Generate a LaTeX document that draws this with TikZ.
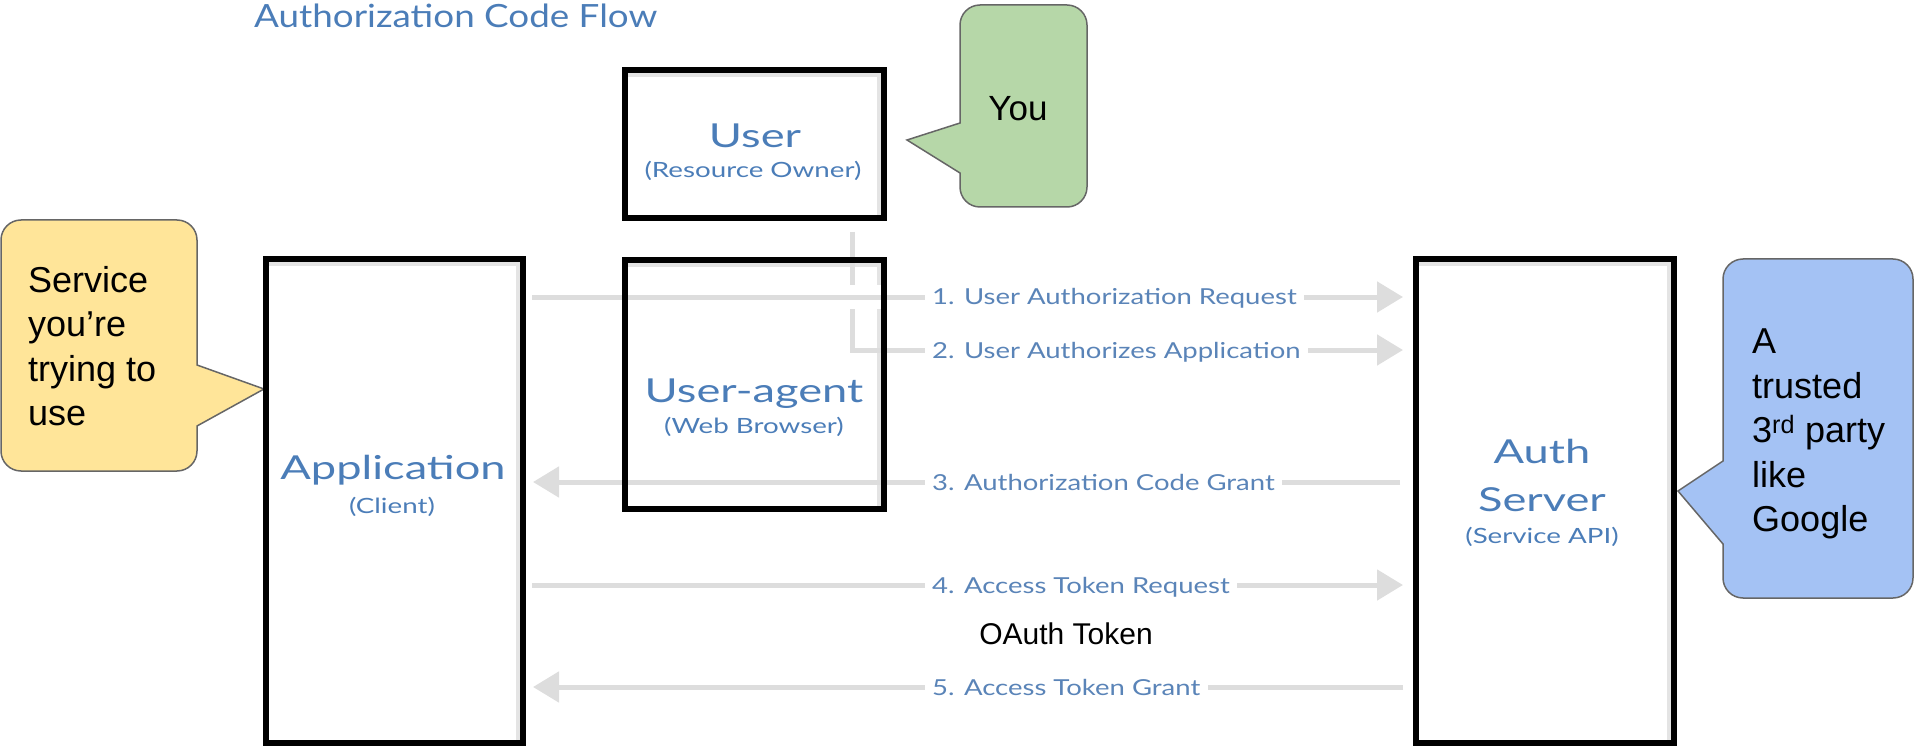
\documentclass[tikz,border=0pt]{standalone}
\usepackage{fontspec}
\setmainfont{Liberation Sans}
\newfontfamily\titlefont{Lato}[FakeStretch = 1.15]
\newfontfamily\flowfont{Lato}[FakeStretch = 1.37]
\newfontfamily\subfont{Lato}[FakeStretch = 1.32]
\newfontfamily\stepfont{Lato}[FakeStretch = 1.25]
\usetikzlibrary{arrows.meta,positioning}

\definecolor{flowblue}{HTML}{4B7DB8}
\definecolor{stepblue}{HTML}{5A84B8}
\definecolor{flowgray}{HTML}{DDDDDD}
\definecolor{yougreen}{HTML}{B6D7A8}
\definecolor{svcyellow}{HTML}{FFE599}
\definecolor{authblue}{HTML}{A4C2F4}
\definecolor{bubbleedge}{HTML}{666666}

\pgfdeclarelayer{back}
\pgfsetlayers{back,main}

\tikzset{
	actor/.style = {draw = black, line width = 6pt, rectangle, inner sep = 0pt},
	boxshade/.style = {draw = flowgray!80, line width = 4pt},
	who/.style = {font = \flowfont\fontsize{33}{36}\selectfont, text = flowblue, inner sep = 0pt, anchor = base},
	whosub/.style = {font = \subfont\fontsize{21}{24}\selectfont, text = flowblue, inner sep = 0pt, anchor = base},
	flow/.style = {draw = flowgray, line width = 5pt},
	flowhead/.style = {-{Triangle[length = 26pt, width = 30pt]}},
	steplbl/.style = {font = \stepfont\fontsize{22}{24}\selectfont, text = stepblue, inner ysep = 0pt, inner xsep = 7pt,
		text height = 20pt, text depth = 4pt, anchor = west, fill = white},
	bubble/.style = {draw = bubbleedge, line width = 1.5pt},
	say/.style = {font = \fontsize{36}{44.5}\selectfont, align = left, inner sep = 0pt, anchor = north west}
}

\begin{document}
\begin{tikzpicture}[x = 1pt, y = -1pt]
	\useasboundingbox (0,0) rectangle (1915,746);

	\node at (254,28)(title)[anchor = base west, inner sep = 0pt, text = flowblue, font = \titlefont\fontsize{32}{36}\selectfont]{Authorization Code Flow};

	\draw[bubble, fill = yougreen] (907,140) -- (960,173) [rounded corners = 20pt] -- (960,207) -- (1087,207) -- (1087,5) -- (960,5) [sharp corners] -- (960,123) -- cycle;
	\node at (1018,120.5)(you)[anchor = base, inner sep = 0pt, font = \fontsize{35}{40}\selectfont]{You};

	\draw[bubble, fill = svcyellow] (264,389) -- (197,426) [rounded corners = 20pt] -- (197,471) -- (1,471) -- (1,220) -- (197,220) [sharp corners] -- (197,365) -- cycle;
	\node at (28,266)(svc)[say]{Service\\you’re\\trying to\\use};

	\draw[bubble, fill = authblue] (1678,491) -- (1723,461) [rounded corners = 20pt] -- (1723,259) -- (1913,259) -- (1913,598) -- (1723,598) [sharp corners] -- (1723,544) -- cycle;
	\node at (1752,329)(trusted)[say]{A\\trusted\\3\textsuperscript{rd} party\\like\\Google};

	\node at (754.5,144)(user)[actor, minimum width = 259pt, minimum height = 148pt]{};
	\node at (754.5,384.5)(agent)[actor, minimum width = 259pt, minimum height = 249pt]{};
	\node at (394.5,501)(app)[actor, minimum width = 257pt, minimum height = 484pt]{};
	\node at (1545,501)(auth)[actor, minimum width = 258pt, minimum height = 484pt]{};

	\node at (925,297)(s1)[steplbl]{1. User Authorization Request};
	\node at (925,350)(s2)[steplbl]{2. User Authorizes Application};
	\node at (925,482)(s3)[steplbl]{3. Authorization Code Grant};
	\node at (925,585)(s4)[steplbl]{4. Access Token Request};
	\node at (925,687)(s5)[steplbl]{5. Access Token Grant};

	\begin{pgfonlayer}{back}
		\foreach \who in {user,agent,app,auth}
			\draw[boxshade] ([xshift = 6pt, yshift = -8pt]\who.north west) -- ([xshift = -8pt, yshift = -8pt]\who.north east) -- ([xshift = -8pt, yshift = 6pt]\who.south east);
		\draw[flow] ([xshift = 97.5pt, yshift = -11pt]user.south) |- (s2.west);
		\draw[flow, flowhead, shorten >= 10pt] (s2.east) -- (auth.west |- s2.east);
		\draw[flow, shorten <= 6pt, preaction = {draw = white, line width = 24pt}] (app.east |- s1.west) -- (s1.west);
		\draw[flow, flowhead, shorten >= 10pt] (s1.east) -- (auth.west |- s1.east);
		\draw[flow, flowhead, shorten >= 7pt] (s3.west) -- (app.east |- s3.west);
		\draw[flow, shorten <= 13pt] (auth.west |- s3.east) -- (s3.east);
		\draw[flow, shorten <= 6pt] (app.east |- s4.west) -- (s4.west);
		\draw[flow, flowhead, shorten >= 10pt] (s4.east) -- (auth.west |- s4.east);
		\draw[flow, flowhead, shorten >= 7pt] (s5.west) -- (app.east |- s5.west);
		\draw[flow, shorten <= 10pt] (auth.west |- s5.east) -- (s5.east);
	\end{pgfonlayer}

	\node at (1066,634)(oauth)[inner sep = 0pt, font = \fontsize{30}{34}\selectfont]{OAuth Token};

	\node at (755,148)(usertxt)[who]{User};
	\node at (753,178)(usersub)[whosub]{(Resource Owner)};
	\node at (754,402)(agenttxt)[who]{User-agent};
	\node at (754,433)(agentsub)[whosub]{(Web Browser)};
	\node at (393,479)(apptxt)[who]{Application};
	\node at (392,513)(appsub)[whosub]{(Client)};
	\node at (1542,463)(authtxt)[who]{Auth};
	\node at (1542,511)(authtxt2)[who]{Server};
	\node at (1542,543)(authsub)[whosub]{(Service API)};
\end{tikzpicture}
\end{document}
